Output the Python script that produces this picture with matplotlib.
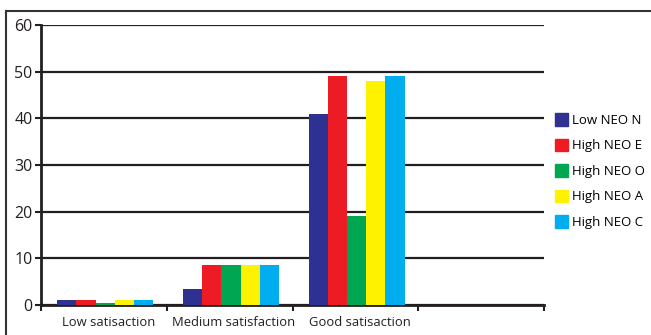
import matplotlib
matplotlib.use("Agg")
import matplotlib.pyplot as plt
from matplotlib.lines import Line2D
import numpy as np

plt.rcParams['font.family'] = ['Open Sans', 'DejaVu Sans']

categories = ["Low satisaction", "Medium satisfaction", "Good satisaction"]
series_names = ["Low NEO N", "High NEO E", "High NEO O", "High NEO A", "High NEO C"]
low_neo_n = [1, 3.5, 41]
high_neo_e = [1, 8.5, 49]
high_neo_o = [0.5, 8.5, 19]
high_neo_a = [1, 8.5, 48]
high_neo_c = [1, 8.5, 49]
series = [low_neo_n, high_neo_e, high_neo_o, high_neo_a, high_neo_c]
colors = ["#2E3192", "#ED1C24", "#00A651", "#FFF200", "#00AEEF"]
y_ticks = [0, 10, 20, 30, 40, 50, 60]

fig = plt.figure(figsize=(6.51, 3.35), dpi=100)
ax = fig.add_axes([41/651, 30/335, (544-41)/651, (305-25)/335])

x = np.arange(len(categories))
w = 0.153
for i, (vals, c, name) in enumerate(zip(series, colors, series_names)):
    ax.bar(x + (i - 2) * w + 0.01, vals, width=w, color=c, label=name, zorder=3, linewidth=0)

ax.set_xlim(-0.5, 3.5)
ax.set_ylim(0, 60)
ax.set_yticks(y_ticks)
ax.set_yticklabels([str(v) for v in y_ticks], fontsize=11.5, color="#231F20")
ax.yaxis.grid(True, color="#231F20", linewidth=1.6, zorder=0)
ax.set_axisbelow(True)

ax.set_xticks(x + 0.035)
ax.set_xticklabels(categories, fontsize=9.4, color="#231F20")
ax.tick_params(axis='x', which='major', length=0, pad=8)
ax.set_xticks([-0.5, 0.5, 1.5, 2.5, 3.5], minor=True)
ax.tick_params(axis='x', which='minor', length=4, width=1.5, color="#231F20", direction='out')
ax.tick_params(axis='y', length=4, width=1.5, color="#231F20", pad=2)

for s in ['top', 'right']:
    ax.spines[s].set_visible(False)
for s in ['left', 'bottom']:
    ax.spines[s].set_linewidth(2)
    ax.spines[s].set_color("#231F20")

handles = [plt.Rectangle((0, 0), 1, 1, color=c) for c in colors]
fig.legend(handles, series_names, loc='upper left', bbox_to_anchor=(550/651, 1 - 108/335),
           frameon=False, fontsize=9.5, handlelength=0.95, handleheight=1.05,
           handletextpad=0.35, labelspacing=0.9, borderaxespad=0)

fig.add_artist(Line2D([6/651, 1.0], [1 - 10.5/335, 1 - 10.5/335], transform=fig.transFigure,
                      color="#333333", linewidth=1.5))
fig.add_artist(Line2D([6/651, 6/651], [0.0, 1 - 10.5/335], transform=fig.transFigure,
                      color="#333333", linewidth=1.5))

fig.savefig("out.png", dpi=100)
